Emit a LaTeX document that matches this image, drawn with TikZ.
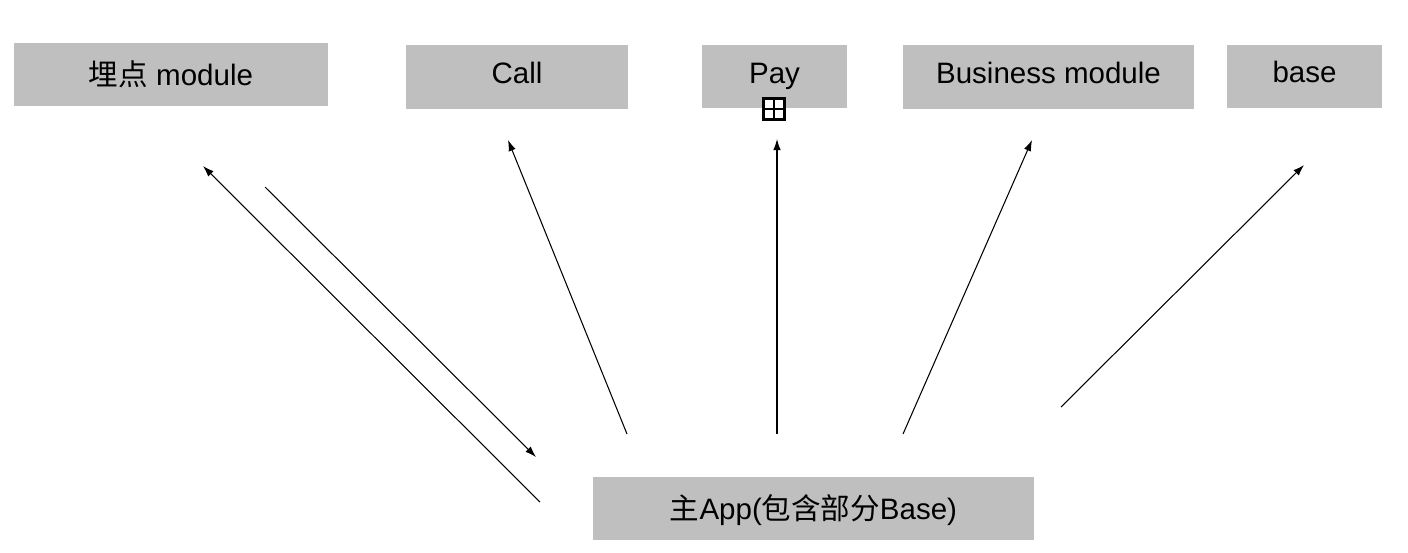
\documentclass[tikz,border=0pt]{standalone}
\usepackage{fontspec}
\setmainfont{Liberation Sans}
\newfontfamily\cjk{Noto Sans CJK SC}
\usepackage{xcolor}
\usetikzlibrary{arrows.meta, positioning}
\definecolor{boxgray}{RGB}{191,191,191}

\begin{document}
\begin{tikzpicture}[x=0.02cm, y=-0.02cm, >={Latex[length=0.22cm, width=0.15cm]},
            modbox/.style={fill=boxgray, rectangle, minimum height=1.27cm, inner sep=0pt, align=center,
                font=\fontsize{16.8}{20}\selectfont, text height=0.4cm, text depth=0.16cm},
            cjkbox/.style={modbox, text height=0.45cm, text depth=0.03cm}]
            \useasboundingbox (0,0) rectangle (1408,552);

            \node[cjkbox, minimum width=6.28cm] (track) at (171,74.5) {{\cjk 埋点} module};
            \node[modbox, minimum width=4.44cm] (call) at (517,77) {Call};
            \node[modbox, minimum width=2.9cm, text depth=0.12cm] (pay) at (774.5,76.5) {Pay};
            \node[modbox, minimum width=5.82cm] (business) at (1048.5,77) {Business module};
            \node[modbox, minimum width=3.1cm] (base) at (1304.5,76.5) {base};
            \node[cjkbox, minimum width=8.82cm] (app) at (813.5,508.5) {{\cjk 主}App({\cjk 包含部分}Base)};

            % small expand mark under Pay
            \node[draw, fill=white, line width=1.4pt, minimum size=0.42cm, inner sep=0pt] (plus) at (774,109) {};
            \draw[line width=0.9pt] (plus.north) -- (plus.south);
            \draw[line width=0.9pt] (plus.west) -- (plus.east);

            % free ends of the arrows
            \coordinate (trackIn) at (203,166);
            \coordinate (appOut1) at (540,502);
            \coordinate (trackOut) at (265,187);
            \coordinate (appIn) at (536,457);
            \coordinate (callIn) at (508,140);
            \coordinate (appOut2) at (627,434);
            \coordinate (payIn) at (777,139);
            \coordinate (appOut3) at (777,434);
            \coordinate (businessIn) at (1032,140);
            \coordinate (appOut4) at (903,434);
            \coordinate (baseIn) at (1304,165);
            \coordinate (appOut5) at (1061,407);

            \draw[->, line width=0.6pt] (appOut1) -- (trackIn);
            \draw[->, line width=0.6pt] (trackOut) -- (appIn);
            \draw[->, line width=0.6pt] (appOut2) -- (callIn);
            \draw[->, line width=0.6pt] (appOut3) -- (payIn);
            \draw[->, line width=0.6pt] (appOut4) -- (businessIn);
            \draw[->, line width=0.6pt] (appOut5) -- (baseIn);
        \end{tikzpicture}
\end{document}
